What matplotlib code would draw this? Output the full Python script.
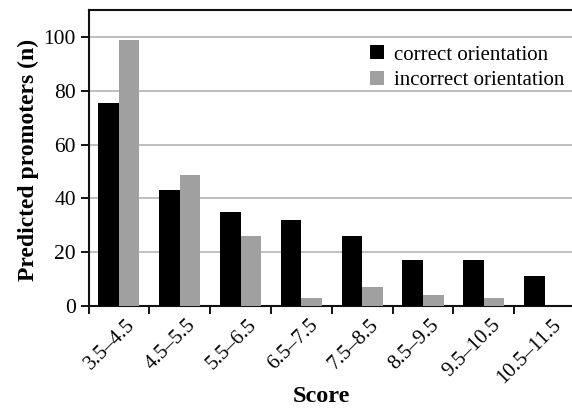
import matplotlib
matplotlib.use("Agg")
import matplotlib.pyplot as plt
import matplotlib.transforms as mtransforms
import numpy as np

categories = ["3.5–4.5", "4.5–5.5", "5.5–6.5", "6.5–7.5", "7.5–8.5", "8.5–9.5", "9.5–10.5", "10.5–11.5"]
correct = [75.5, 43, 35, 32, 26, 17, 17, 11]
incorrect = [99, 48.5, 26, 3, 7, 4, 3, 0]
series_names = ["correct orientation", "incorrect orientation"]
yticks = [0, 20, 40, 60, 80, 100]

plt.rcParams['font.family'] = ['Liberation Serif', 'DejaVu Serif']

fig = plt.figure(figsize=(5.72, 4.08), dpi=100)
W, H = 572, 408
ax = fig.add_axes([88.5 / W, 1 - 306 / H, (575 - 88.5) / W, (306 - 10) / H])

x = np.arange(len(categories))
bw = 0.338
ax.bar(x - bw / 2, correct, width=bw, color="#000000", label=series_names[0], zorder=3)
ax.bar(x + bw / 2, incorrect, width=bw, color="#a0a0a0", label=series_names[1], zorder=3)

ax.set_xlim(-0.5, len(categories) - 0.5)
ax.set_ylim(0, 110)
ax.set_yticks(yticks)
ax.yaxis.grid(True, color="#b4b4b4", linewidth=1.2, zorder=0)
ax.set_axisbelow(True)

ax.set_xticks(np.arange(len(categories) + 1) - 0.5)
ax.set_xticklabels([])
ax.set_xticks(x, minor=True)
ax.set_xticklabels(categories, minor=True, rotation=45, ha="right", va="top",
                   rotation_mode="anchor", fontsize=15)
ax.tick_params(axis="x", which="minor", length=0, pad=7)
ax.tick_params(axis="x", which="major", direction="out", length=6, width=1.3)
ax.tick_params(axis="y", direction="out", length=6, width=1.3, labelsize=15.5, pad=3)

offset = mtransforms.ScaledTranslation(7 / 100, 0, fig.dpi_scale_trans)
for lab in ax.get_xticklabels(minor=True):
    lab.set_transform(lab.get_transform() + offset)

for s in ["left", "bottom", "top"]:
    ax.spines[s].set_linewidth(1.5)
    ax.spines[s].set_color("#111111")
ax.spines["right"].set_visible(False)

ax.set_ylabel("Predicted promoters (n)", fontsize=17, fontweight="bold")
ax.yaxis.set_label_coords(28 / W, 1 - 160 / H, transform=fig.transFigure)
ax.set_xlabel("Score", fontsize=17.5, fontweight="bold")
ax.xaxis.set_label_coords(321 / W, 1 - 396 / H, transform=fig.transFigure)
ax.xaxis.label.set_va("center")
ax.yaxis.label.set_va("center")

leg = ax.legend(loc="upper left", bbox_to_anchor=(362 / W, 1 - 37 / H), bbox_transform=fig.transFigure,
                frameon=False, fontsize=15, handlelength=0.65, handleheight=0.65,
                handletextpad=0.5, labelspacing=0.3, borderaxespad=0)

fig.savefig("out.png", dpi=100)
